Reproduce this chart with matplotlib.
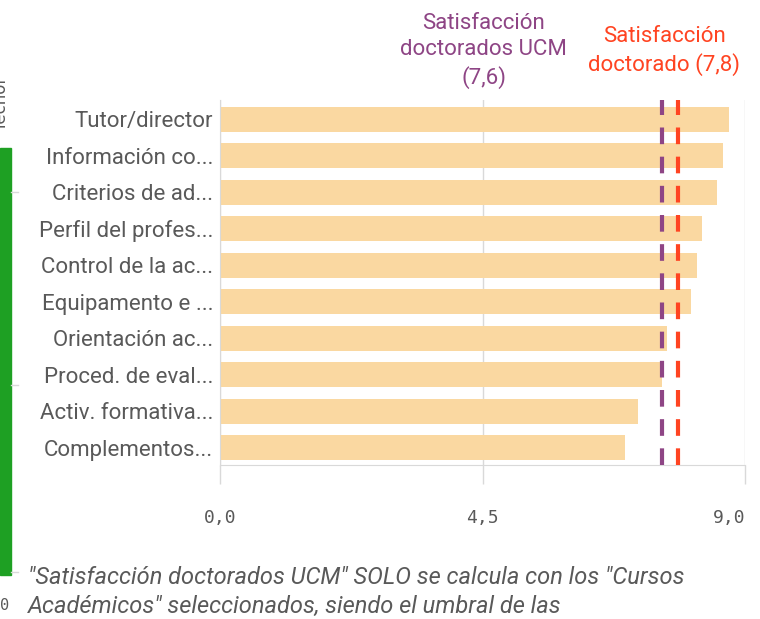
import matplotlib.pyplot as plt
from matplotlib.patches import Rectangle

# data
categories = [
    "Tutor/director",
    "Información co...",
    "Criterios de ad...",
    "Perfil del profes...",
    "Control de la ac...",
    "Equipamento e ...",
    "Orientación ac...",
    "Proced. de eval...",
    "Activ. formativa...",
    "Complementos...",
]
values = [8.72, 8.62, 8.52, 8.26, 8.17, 8.07, 7.67, 7.57, 7.17, 6.94]
ucm_mean = 7.57
doct_mean = 7.85
x_ticks = [0.0, 4.5, 9.0]
x_tick_labels = ["0,0", "4,5", "9,0"]

W, H = 760, 619
fig = plt.figure(figsize=(W / 100, H / 100), dpi=100)

grey_txt = "#595959"
grid_col = "#d9d9d9"
purple = "#8e4585"
red = "#ff4422"

ax = fig.add_axes([220 / W, 1 - 465 / H, 525 / W, 365 / H])
pos = list(range(len(categories)))
ax.barh(pos, values, height=0.685, color="#fad8a1", zorder=2)
ax.set_ylim(9.466, -0.534)
ax.set_xlim(0, 9)

# reference lines
ax.axvline(ucm_mean, color=purple, lw=3, dashes=(4, 3), zorder=3)
ax.axvline(doct_mean, color=red, lw=3, dashes=(4, 3), zorder=3)

ax.set_yticks(pos)
ax.set_yticklabels(categories, family="Roboto", fontsize=16, color=grey_txt)
ax.tick_params(axis="y", length=0, pad=5)

ax.set_xticks(x_ticks)
ax.set_xticklabels(x_tick_labels, family="DejaVu Sans Mono", fontsize=13,
                   color=grey_txt)
ax.get_xticklabels()[-1].set_ha("right")
ax.tick_params(axis="x", length=14, width=1, color=grid_col, pad=18)
ax.grid(axis="x", color=grid_col, lw=1, zorder=0)

for side in ["top", "right"]:
    ax.spines[side].set_visible(False)
ax.spines["left"].set_color(grid_col)
ax.spines["bottom"].set_color(grid_col)

# line annotations, centred on the same height above the plot
ann_y = 1 - 51 / H
xa = ax.transData.transform((ucm_mean - 3.05, 0))[0] / fig.dpi / fig.get_figwidth()
xb = ax.transData.transform((doct_mean - 0.23, 0))[0] / fig.dpi / fig.get_figwidth()
fig.text(xa, ann_y, "Satisfacción\ndoctorados UCM\n(7,6)",
         ha="center", va="center", color=purple, family="Roboto",
         fontsize=16, linespacing=1.3)
fig.text(xb, ann_y, "Satisfacción\ndoctorado (7,8)",
         ha="center", va="center", color=red, family="Roboto",
         fontsize=16, linespacing=1.3)

# bits of the neighbouring chart at the left edge
fig.patches.append(Rectangle((0, 1 - 575 / H), 11 / W, 427 / H,
                             transform=fig.transFigure, color="#1ea023"))
for yy in [192, 385, 572]:
    fig.add_artist(plt.Line2D([11 / W, 18 / W], [1 - yy / H] * 2,
                              transform=fig.transFigure, color=grid_col, lw=1))
fig.text(-8 / W, 1 - 105 / H, "Tecnol", rotation=90, ha="left", va="center",
         color=grey_txt, fontsize=12)
fig.text(0, 1 - 606 / H, "0", family="DejaVu Sans Mono",
         ha="left", va="center", color=grey_txt, fontsize=11)

# footer note
fig.text(28 / W, 1 - 577 / H,
         '"Satisfacción doctorados UCM" SOLO se calcula con los "Cursos',
         style="italic", color=grey_txt, family="Roboto", fontsize=17,
         va="center", ha="left")
fig.text(28 / W, 1 - 606 / H,
         'Académicos" seleccionados, siendo el umbral de las',
         style="italic", color=grey_txt, family="Roboto", fontsize=17,
         va="center", ha="left")

fig.savefig("out.png", dpi=100)
